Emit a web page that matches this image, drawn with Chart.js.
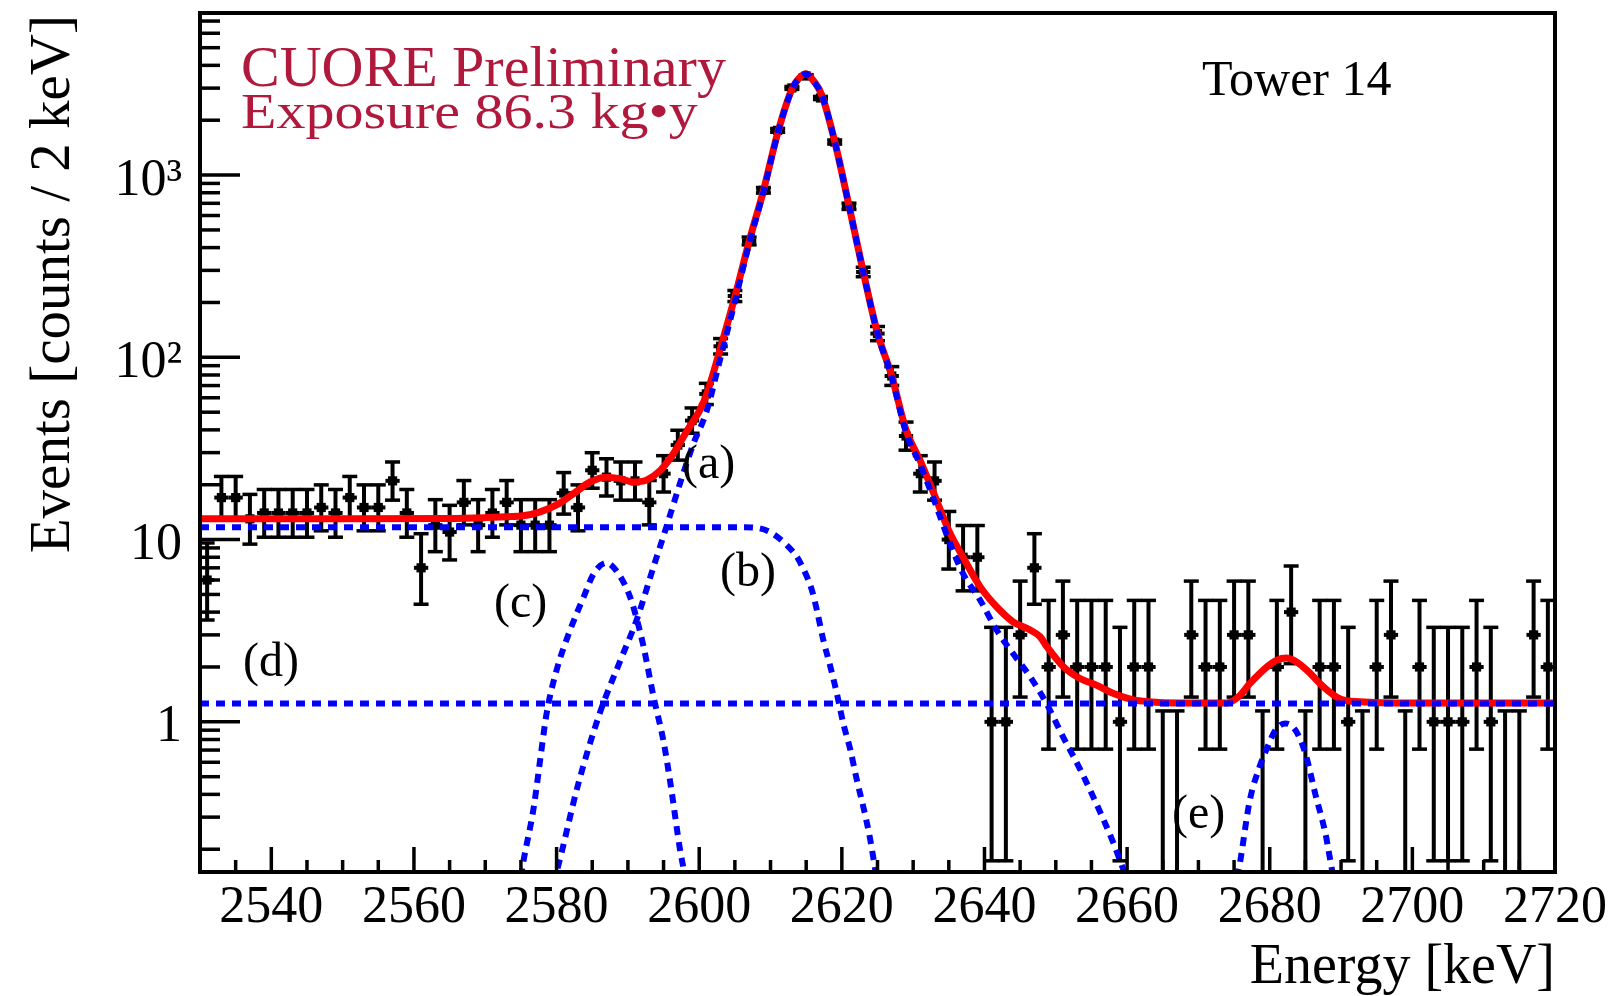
<!DOCTYPE html>
<html>
<head>
<meta charset="utf-8">
<script src="https://cdn.jsdelivr.net/npm/chart.js@4/dist/chart.umd.min.js"></script>
<style>
html,body{margin:0;padding:0;background:#ffffff;}
#wrap{width:1620px;height:996px;position:relative;}
</style>
</head>
<body>
<div id="wrap"><canvas id="c" width="1620" height="996"></canvas></div>
<script>
// ---------------- data ----------------
const binCenters = [2531,2533,2535,2537,2539,2541,2543,2545,2547,2549,2551,2553,2555,2557,2559,2561,2563,2565,2567,2569,
  2571,2573,2575,2577,2579,2581,2583,2585,2587,2589,2591,2593,2595,2597,2599,2601,2603,2605,2607,2609,
  2611,2613,2615,2617,2619,2621,2623,2625,2627,2629,2631,2633,2635,2637,2639,2641,2643,2645,2647,2649,
  2651,2653,2655,2657,2659,2661,2663,2665,2667,2669,2671,2673,2675,2677,2679,2681,2683,2685,2687,2689,
  2691,2693,2695,2697,2699,2701,2703,2705,2707,2709,2711,2713,2715,2717,2719];
const counts = [6,17,17,13,14,14,14,14,15,14,17,15,15,21,14,7,12,11,16,12,
  14,16,12,12,12,18,15,24,22,21,21,16,23,33,45,63,115,217,435,825,
  1760,3008,3495,2648,1518,674,294,135,79,37,23,21,10,8,8,1,1,3,7,2,
  3,2,2,2,1,2,2,0,0,3,2,2,3,3,0,2,4,0,2,2,
  1,0,2,3,0,2,1,1,1,2,1,0,0,3,2];

const xTickValues = [2540,2560,2580,2600,2620,2640,2660,2680,2700,2720];
const yTickValues = [1,10,100,1000];
const yTickLabels = ['1','10','10\u00B2','10\u00B3'];

// total fit (red)
const fitTotalX = [2530,2550,2565,2570,2573,2575.3,2577.7,2580,2582.4,2584.7,2587,2588.9,2590.8,2592.6,2594.5,2596.4,2598.2,2600.1,2601,2603,2605,2607,2609,2611,2613,2614,2615,2616,2617.2,2619,2621,2623,2625,2627,2629,2631,2633,2635,2637,2639.4,2641.7,2644,2646.4,2647.8,2648.7,2651.1,2653.4,2655.7,2658.1,2660.9,2663,2667,2674,2675.6,2677.2,2679.6,2681,2682.3,2683.6,2685.2,2687.5,2689.8,2692.6,2700,2720];
const fitTotalY = [13.0,13.0,13.05,13.2,13.35,13.5,14.2,15.5,17.9,20.7,22.0,21.6,20.7,21.2,23.9,29.7,39,51.5,62,113,215,432,820,1700,2960,3400,3600,3300,2745,1530,680,295,136,79,40,27,17.5,11.2,8.0,5.5,4.28,3.54,3.19,2.93,2.6,2.0,1.73,1.59,1.43,1.32,1.29,1.27,1.27,1.37,1.62,2.0,2.18,2.24,2.15,1.92,1.56,1.34,1.29,1.27,1.27];

// (a) main peak
const compAX = [2579.5,2580,2583,2586,2589,2591.2,2593.6,2595.4,2597.3,2599.2,2601,2603,2605,2607,2609,2611,2613,2614,2615,2616,2617.2,2619,2621,2623,2625,2627,2629,2631,2633,2635,2637,2639.4,2641.7,2644,2646.4,2648.7,2651,2653.4,2655.7,2658,2659.6,2660];
const compAY = [0.13,0.15,0.45,1.1,2.2,3.6,7.1,11.75,20.3,33.7,50,100,202,420,808,1690,2950,3392,3593,3295,2741,1527,678,294,135,77.7,38.7,25.7,16.2,9.9,6.5,4.65,3.19,2.37,1.77,1.26,0.83,0.55,0.355,0.22,0.15,0.135];
// (b) continuum step
const compBX = [2530,2606,2608.1,2609.9,2611.8,2613.7,2614.9,2615.8,2616.5,2617.4,2618.4,2619.3,2620.2,2621.2,2622.1,2623.1,2624,2624.7,2625];
const compBY = [11.7,11.7,11.6,11.0,9.7,8.03,6.52,5.28,4.1,2.81,2.0,1.43,0.98,0.70,0.48,0.33,0.224,0.153,0.13];
// (c) small peak
const compCX = [2575,2575.3,2576.8,2577.7,2578.6,2580,2581.9,2583.8,2585.2,2587,2588.9,2590.3,2591.3,2592.2,2593.6,2595,2596,2597.3,2597.9,2598.2];
const compCY = [0.14,0.167,0.34,0.62,1.11,1.92,3.19,4.85,6.5,7.45,6.3,4.85,3.6,2.58,1.37,0.78,0.45,0.2,0.15,0.13];
// (d) flat background
const compDX = [2530,2720];
const compDY = [1.26,1.26];
// (e) peak near 2682
const compEX = [2675.4,2675.6,2677.2,2678.6,2679.5,2680.8,2682.2,2683.6,2685,2686.4,2687.8,2688.8,2689];
const compEY = [0.14,0.15,0.37,0.57,0.70,0.90,0.98,0.90,0.67,0.40,0.245,0.15,0.14];

// ---------------- Poisson (Garwood) intervals ----------------
function lnGamma(z){
  const c=[0.99999999999980993,676.5203681218851,-1259.1392167224028,771.32342877765313,-176.61502916214059,12.507343278686905,-0.13857109526572012,9.9843695780195716e-6,1.5056327351493116e-7];
  if(z<0.5) return Math.log(Math.PI/Math.sin(Math.PI*z)) - lnGamma(1-z);
  z-=1; let x=c[0]; for(let i=1;i<9;i++) x+=c[i]/(z+i);
  const t=z+7.5; return 0.5*Math.log(2*Math.PI)+(z+0.5)*Math.log(t)-t+Math.log(x);
}
function gammaP(a,x){
  if(x<=0) return 0;
  if(x<a+1){
    let sum=1/a, del=sum, ap=a;
    for(let n=0;n<2000;n++){ ap+=1; del*=x/ap; sum+=del; if(Math.abs(del)<Math.abs(sum)*1e-14) break; }
    return sum*Math.exp(-x+a*Math.log(x)-lnGamma(a));
  }
  let b=x+1-a, cc=1e300, d=1/b, h=d;
  for(let i=1;i<2000;i++){
    const an=-i*(i-a); b+=2; d=an*d+b; if(Math.abs(d)<1e-300) d=1e-300;
    cc=b+an/cc; if(Math.abs(cc)<1e-300) cc=1e-300; d=1/d; const del=d*cc; h*=del;
    if(Math.abs(del-1)<1e-14) break;
  }
  return 1-Math.exp(-x+a*Math.log(x)-lnGamma(a))*h;
}
function gammaQuantile(a,p){
  let lo=0, hi=a+20*Math.sqrt(a)+30;
  for(let i=0;i<100;i++){ const m=(lo+hi)/2; if(gammaP(a,m)<p) lo=m; else hi=m; }
  return (lo+hi)/2;
}
const ALPHA = 0.158655;
function poissonLow(n){ if(n<=0) return 0; if(n>150) return n-Math.sqrt(n); return gammaQuantile(n,ALPHA); }
function poissonHigh(n){ if(n<=0) return gammaQuantile(1,0.682689); if(n>150) return n+Math.sqrt(n)+1; return gammaQuantile(n+1,1-ALPHA); }
const lowErr = counts.map(poissonLow);
const highErr = counts.map(poissonHigh);

// ---------------- plugins ----------------
const SERIF = '"Liberation Serif", "Times New Roman", serif';
function seg(ctx,x1,y1,x2,y2){ ctx.beginPath(); ctx.moveTo(x1,y1); ctx.lineTo(x2,y2); ctx.stroke(); }

const errorBarPlugin = {
  id:'errorBars',
  beforeDatasetsDraw(chart){
    const {ctx, chartArea:a} = chart; const xs=chart.scales.x, ys=chart.scales.y;
    ctx.save();
    ctx.beginPath(); ctx.rect(a.left,a.top,a.right-a.left,a.bottom-a.top); ctx.clip();
    ctx.strokeStyle='#000'; ctx.lineCap='butt';
    binCenters.forEach((c,i)=>{
      const n=counts[i];
      const px=xs.getPixelForValue(c);
      const pHi=ys.getPixelForValue(highErr[i]);
      const pLo= n>0 ? ys.getPixelForValue(lowErr[i]) : a.bottom+10;
      const pc = n>0 ? ys.getPixelForValue(n) : a.bottom;
      ctx.lineWidth=4; seg(ctx,px,pLo,px,pHi);
      ctx.lineWidth=3.5; seg(ctx,px-7.5,pHi,px+7.5,pHi);
      if(n>0) seg(ctx,px-7.5,pLo,px+7.5,pLo);
      ctx.lineWidth=4;
      seg(ctx,xs.getPixelForValue(c-1),pc,xs.getPixelForValue(c+1),pc);
    });
    ctx.restore();
  }
};

const framePlugin = {
  id:'frame',
  afterDatasetsDraw(chart){
    const {ctx, chartArea:a} = chart; const xs=chart.scales.x, ys=chart.scales.y;
    ctx.save(); ctx.strokeStyle='#000'; ctx.lineCap='butt';
    ctx.lineWidth=3.5;
    for(let v=2535; v<=2720; v+=5){
      const px=xs.getPixelForValue(v);
      const major = xTickValues.indexOf(v)>=0;
      seg(ctx,px,a.bottom,px,a.bottom-(major?25:12));
    }
    for(let d=-1; d<=3; d++){
      for(let k=1;k<=9;k++){
        const v=k*Math.pow(10,d);
        if(v<ys.min || v>ys.max) continue;
        const py=ys.getPixelForValue(v);
        seg(ctx,a.left,py,a.left+(k===1?40:20),py);
      }
    }
    ctx.lineWidth=4;
    ctx.strokeRect(a.left,a.top,a.right-a.left,a.bottom-a.top);
    ctx.restore();
  }
};

const textPlugin = {
  id:'texts',
  afterDraw(chart){
    const ctx=chart.ctx;
    ctx.save();
    ctx.textBaseline='alphabetic'; ctx.textAlign='left';
    ctx.fillStyle='#b0193c';
    ctx.font='58px '+SERIF;
    ctx.fillText('CUORE Preliminary',241,86);
    ctx.save(); ctx.translate(241,128); ctx.scale(1,0.86); ctx.fillText('Exposure 86.3 kg\u2022y',0,0); ctx.restore();
    ctx.fillStyle='#000';
    ctx.font='50px '+SERIF;
    ctx.fillText('Tower 14',1202,95);
    ctx.font='48px '+SERIF;
    ctx.fillText('(a)',682,478);
    ctx.fillText('(b)',720,586);
    ctx.fillText('(c)',494,617);
    ctx.fillText('(d)',243,676);
    ctx.fillText('(e)',1172,828);
    ctx.font='56px '+SERIF;
    ctx.textAlign='right';
    ctx.fillText('Energy [keV]',1555,983);
    ctx.save(); ctx.translate(69,15); ctx.rotate(-Math.PI/2);
    ctx.font='57px '+SERIF; ctx.textAlign='right';
    ctx.fillText('Events [counts / 2 keV]',0,0);
    ctx.restore();
    ctx.restore();
  }
};

// ---------------- chart ----------------
function pairs(xs,ys){ return xs.map((x,i)=>({x:x,y:ys[i]})); }
const blueStyle = {showLine:true, borderColor:'#0000ff', borderWidth:6, borderDash:[9,7], pointRadius:0, cubicInterpolationMode:'monotone', tension:0.4, order:1, clip:0, fill:false};

Chart.defaults.font.family = SERIF;
new Chart(document.getElementById('c'), {
  type:'scatter',
  data:{ datasets:[
    {label:'Data', data:pairs(binCenters,counts), pointStyle:'rect', pointRadius:6.5, pointBackgroundColor:'#000', pointBorderColor:'#000', pointBorderWidth:0, showLine:false, order:3, clip:0},
    {label:'Total fit', data:pairs(fitTotalX,fitTotalY), showLine:true, borderColor:'#ff0000', borderWidth:7, pointRadius:0, cubicInterpolationMode:'monotone', tension:0.4, order:2, clip:0, fill:false},
    Object.assign({label:'(a)', data:pairs(compAX,compAY)}, blueStyle),
    Object.assign({label:'(b)', data:pairs(compBX,compBY)}, blueStyle),
    Object.assign({label:'(c)', data:pairs(compCX,compCY)}, blueStyle),
    Object.assign({label:'(d)', data:pairs(compDX,compDY)}, blueStyle),
    Object.assign({label:'(e)', data:pairs(compEX,compEY)}, blueStyle)
  ]},
  options:{
    responsive:false, animation:false, devicePixelRatio:1,
    layout:{padding:{top:13,right:65,left:0,bottom:0}},
    plugins:{legend:{display:false}, tooltip:{enabled:false}, title:{display:false}},
    scales:{
      x:{type:'linear', min:2530, max:2720,
         afterFit(s){ s.height=124; s.paddingLeft=0; s.paddingRight=0; },
         afterBuildTicks(s){ s.ticks = xTickValues.map(v=>({value:v})); },
         grid:{display:false, drawTicks:false}, border:{display:false},
         ticks:{color:'#000', font:{family:SERIF, size:52}, padding:5, maxRotation:0, minRotation:0, autoSkip:false, callback:(v)=>String(v)}},
      y:{type:'logarithmic', min:0.15, max:7750,
         afterFit(s){ s.width=200; s.paddingTop=0; s.paddingBottom=0; },
         afterBuildTicks(s){ s.ticks = yTickValues.map(v=>({value:v})); },
         grid:{display:false, drawTicks:false}, border:{display:false},
         ticks:{color:'#000', font:{family:SERIF, size:52}, padding:18, labelOffset:6, autoSkip:false,
                callback:(v)=>{ const i=yTickValues.indexOf(v); return i>=0 ? yTickLabels[i] : ''; }}}
    }
  },
  plugins:[errorBarPlugin, framePlugin, textPlugin]
});
</script>
</body>
</html>
